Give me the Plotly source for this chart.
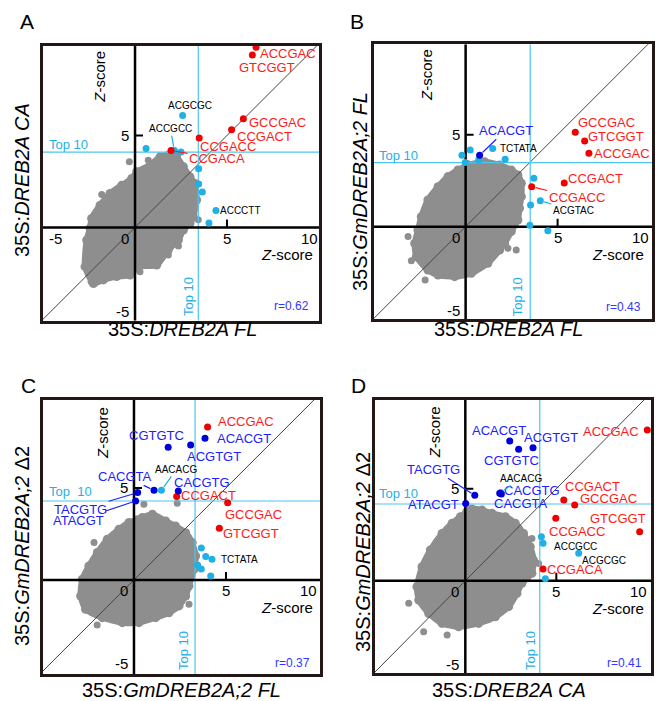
import plotly.graph_objects as go

W, H = 658, 701
FONT = "Arial, 'Liberation Sans', Helvetica, sans-serif"
RED = '#ff1a1a'
RED_PT = '#f00000'
BLUE = '#2020ff'
BLUE_PT = '#0000d8'
CYAN = '#1fb1e6'
CYAN_LINE = '#4cc6ee'
GRAY = '#8e8e8e'
FRAME = '#231815'
R_COLOR = '#3535ff'

# ---------------- data ----------------
PANEL_LETTERS = ['A', 'B', 'C', 'D']
X_TITLES = ["35S:<i>DREB2A FL</i>", "35S:<i>DREB2A FL</i>",
            "35S:<i>GmDREB2A;2 FL</i>", "35S:<i>DREB2A CA</i>"]
Y_TITLES = ["35S:<i>DREB2A CA</i>", "35S:<i>GmDREB2A;2 FL</i>",
            "35S:<i>GmDREB2A;2</i> \u03942", "35S:<i>GmDREB2A;2</i> \u03942"]
R_VALUES = ['r=0.62', 'r=0.43', 'r=0.37', 'r=0.41']
TOP10_LABELS = ['Top 10', 'Top 10', 'Top\u00a0 10', 'Top 10']
TOP10_X = [3.44, 3.51, 3.32, 4.09]
TOP10_Y = [4.10, 3.48, 4.29, 4.17]
X_TICKS = [-5, 0, 5, 10]
Y_TICKS = [-5, 5, 10]
TICK_MARK = 5

# Panel A
A_BLOB_X = [-2.26, -2.72, -2.63, -2.45, -2.36, -1.90, -1.36, -0.72, -0.18, 0.09, 0.82, 1.36, 1.85, 2.26,
            2.63, 2.99, 3.26, 3.35, 3.17, 2.99, 2.63, 2.36, 1.81, 1.18, 0.18, -0.27, -1.00, -1.72]
A_BLOB_Y = [-3.04, -2.14, -0.69, -0.05, 0.49, 1.21, 1.85, 2.30, 2.66, 3.03, 3.39, 3.84, 3.95, 3.85,
            3.30, 2.75, 2.39, 1.49, 0.58, 0.22, -0.14, -0.69, -1.23, -2.05, -2.14, -2.59, -2.68, -2.86]
A_OUT_X = [-1.81, -0.31, 0.72, 0.27, -2.39, 2.36, 1.81, 3.44]
A_OUT_Y = [1.79, 3.57, 3.66, -2.41, -2.95, -1.01, -1.50, 0.42]
A_RED_NAMES = ['ACCGAC', 'GTCGGT', 'GCCGAC', 'CCGACT', 'CCGACC', 'CCGACA']
A_RED_X = [6.58, 6.38, 5.89, 5.25, 3.49, 1.96]
A_RED_Y = [9.80, 9.39, 5.91, 5.31, 4.86, 4.18]
A_BLUE_NAMES = []
A_BLUE_X = []
A_BLUE_Y = []
A_CYAN_NAMES = ['ACGCGC', '', 'ACCGCC', '', '', '', '', 'ACCCTT', '']
A_CYAN_X = [2.59, 0.60, 2.14, 2.50, 3.46, 3.46, 3.66, 4.40, 4.02]
A_CYAN_Y = [6.09, 4.29, 4.18, 4.11, 3.19, 2.36, 1.92, 0.92, 0.24]

# Panel B
B_BLOB_X = [0.13, 1.03, 1.85, 2.48, 2.84, 3.03, 3.03, 2.93, 2.84, 2.48, 2.12, 1.85, 1.21, 0.31, -0.60,
            -1.50, -2.05, -2.68, -2.77, -2.59, -2.41, -2.05, -1.50, -0.96, -0.42]
B_BLOB_Y = [3.35, 3.53, 3.35, 3.08, 2.81, 2.36, 1.63, 1.00, 0.36, -0.27, -0.91, -1.27, -1.99, -2.54, -2.72,
            -2.63, -2.36, -1.63, -0.91, -0.18, 0.54, 1.45, 2.17, 2.72, 3.08]
B_OUT_X = [-3.13, -2.95, 2.75, 2.30, -2.20]
B_OUT_Y = [-0.54, -1.85, -1.27, -1.18, -2.90]
B_RED_NAMES = ['GCCGAC', 'GTCGGT', 'ACCGAC', 'CCGACT', 'CCGACC']
B_RED_X = [5.96, 6.47, 6.70, 5.36, 3.59]
B_RED_Y = [5.13, 4.66, 3.99, 2.37, 2.17]
B_BLUE_NAMES = ['ACACGT']
B_BLUE_X = [0.76]
B_BLUE_Y = [3.88]
B_CYAN_NAMES = ['', '', '', '', 'TCTATA', '', '', '', 'ACGTAC', '', '']
B_CYAN_X = [-0.20, 0.25, -0.02, 0.71, 1.47, 2.15, 3.71, 3.53, 4.06, 3.49, 4.47]
B_CYAN_Y = [3.88, 4.17, 3.48, 3.62, 4.24, 3.66, 2.63, 1.18, 1.41, 0.07, -0.23]

# Panel C
C_BLOB_X = [0.18, 0.45, 1.00, 1.72, 2.26, 2.81, 3.17, 3.35, 3.26, 2.99, 2.81, 2.45, 1.90, 1.18, 0.27,
            -0.63, -1.72, -2.63, -2.90, -2.81, -2.45, -1.99, -1.45, -0.82, -0.27]
C_BLOB_Y = [3.26, 3.39, 3.57, 3.21, 2.93, 2.57, 2.03, 1.30, 0.58, -0.33, -0.87, -1.41, -1.78, -2.05, -2.32,
            -2.32, -2.05, -1.59, -0.87, 0.04, 0.76, 1.49, 2.21, 2.75, 3.12]
C_OUT_X = [-2.17, 0.54, 2.35, 2.99, -2.00]
C_OUT_Y = [2.03, 4.11, 4.17, -1.32, -2.45]
C_RED_NAMES = ['ACCGAC', 'CCGACT', 'GCCGAC', 'GTCGGT']
C_RED_X = [4.00, 2.32, 5.09, 4.64]
C_RED_Y = [8.31, 4.53, 4.20, 2.81]
C_BLUE_NAMES = ['ACACGT', 'CGTGTC', 'ACGTGT', 'CACGTA', 'CACGTG', 'TACGTG', 'ATACGT']
C_BLUE_X = [3.86, 1.86, 3.08, 1.09, 2.41, 0.20, 0.09]
C_BLUE_Y = [7.70, 7.21, 7.34, 4.87, 4.84, 4.75, 4.29]
C_CYAN_NAMES = ['AACACG', '', '', 'TCTATA', '', '', '']
C_CYAN_X = [1.49, 3.66, 3.90, 4.24, 3.46, 3.66, 4.17]
C_CYAN_Y = [4.87, 1.74, 1.27, 1.12, 0.82, 0.60, 0.22]

# Panel D
D_BLOB_X = [0.09, 0.37, 0.92, 1.47, 2.20, 2.75, 3.20, 3.57, 3.75, 3.66, 3.11, 2.84, 2.38, 1.65, 0.73,
            -0.37, -1.28, -2.01, -2.56, -2.66, -2.38, -1.92, -1.28, -0.73, -0.27]
D_BLOB_Y = [3.75, 3.90, 3.84, 3.66, 3.48, 3.12, 2.57, 1.85, 1.12, 0.40, -0.14, -0.69, -1.41, -1.96, -2.32,
            -2.50, -2.32, -1.78, -1.05, -0.33, 0.76, 1.67, 2.57, 3.12, 3.48]
D_OUT_X = [-3.11, -2.29, -1.00, 4.03, 3.66]
D_OUT_Y = [-1.23, -2.77, -2.95, 0.94, 2.30]
D_RED_NAMES = ['ACCGAC', 'CCGACT', 'GCCGAC', 'CCGACC', 'GTCGGT', 'CCGACA']
D_RED_X = [10.00, 5.41, 6.01, 4.97, 9.58, 4.27]
D_RED_Y = [8.19, 4.39, 4.11, 3.39, 2.66, 0.64]
D_BLUE_NAMES = ['ACACGT', 'CGTGTC', 'ACGTGT', 'TACGTG', 'ATACGT', 'CACGTG', 'CACGTA']
D_BLUE_X = [2.44, 2.93, 3.72, 0.52, 0.02, 1.89, 1.98]
D_BLUE_Y = [7.59, 7.14, 7.23, 4.64, 4.20, 4.75, 4.71]
D_CYAN_NAMES = ['AACACG', '', 'ACCGCC', 'ACGCGC', '']
D_CYAN_X = [1.95, 4.18, 4.27, 6.23, 4.40]
D_CYAN_Y = [4.80, 2.39, 2.03, 1.49, 0.11]

# ---------------- layout / style (pixels) ----------------
STYLE = {
    'A': dict(xpx=(42.7, 319.3), ypx=(45.7, 320.7), xr=(-5.02, 10.02), yr=(-5.08, 9.89),
              xtitle=(182, 328.5), ytitle=(22, 180), letter=(27, 22),
              top_h=(4, 8), top_v=(10, 24), zx=(4, 27), zy=(35, 31), r=(8, 15)),
    'B': dict(xpx=(374.0, 652.0), ypx=(44.3, 319.0), xr=(-4.98, 10.13), yr=(-5.02, 9.91),
              xtitle=(508, 328.5), ytitle=(360, 192), letter=(357, 22),
              top_h=(3, 7), top_v=(12, 22), zx=(6, 28), zy=(39, 31), r=(9, 12)),
    'C': dict(xpx=(42.7, 320.0), ypx=(400.0, 674.0), xr=(-4.96, 10.11), yr=(-5.11, 9.78),
              xtitle=(181, 689.5), ytitle=(22, 546), letter=(28, 385),
              top_h=(4, 10), top_v=(12, 23), zx=(5, 28), zy=(32, 33), r=(8, 11)),
    'D': dict(xpx=(374.7, 651.3), ypx=(400.0, 673.3), xr=(-4.98, 10.22), yr=(-5.03, 9.82),
              xtitle=(509, 689.5), ytitle=(363, 552), letter=(358, 385),
              top_h=(2, 10), top_v=(9, 23), zx=(5, 28), zy=(31, 32), r=(7, 10)),
}
# label offsets of text centre from point (px, y down), and whether a leader line is drawn
LABEL_OFFSETS = {
    'A': {'ACCGAC': (32, 6, False), 'GTCGGT': (15, 13, False), 'GCCGAC': (34, 4, False),
          'CCGACT': (33, 7, False), 'CCGACC': (29, 8, False), 'CCGACA': (46, 8, True),
          'ACGCGC': (7, -10, False), 'ACCGCC': (-4, -22, True), 'ACCCTT': (25, 0, False)},
    'B': {'GCCGAC': (31, -10, False), 'GTCGGT': (31, -4, False), 'ACCGAC': (33, 0, False),
          'CCGACT': (31, -5, False), 'CCGACC': (45, 11, True), 'ACACGT': (26, -25, True),
          'TCTATA': (26, 0, False), 'ACGTAC': (33, 10, True)},
    'C': {'ACCGAC': (38, -6, False), 'CCGACT': (32, -1, False), 'GCCGAC': (26, 12, False),
          'GTCGGT': (32, 5, False), 'ACACGT': (39, 0, False), 'CGTGTC': (-12, -12, False),
          'ACGTGT': (23, 12, False), 'CACGTA': (-29, -14, True), 'CACGTG': (24, -8, False),
          'TACGTG': (-57, 17, True), 'ATACGT': (-57, 19, True), 'AACACG': (15, -21, True),
          'TCTATA': (28, 0, False)},
    'D': {'ACCGAC': (-36, 1, False), 'CCGACT': (29, -13, False), 'GCCGAC': (34, -7, False),
          'CCGACC': (21, 13, False), 'GTCGGT': (-22, -13, False), 'CCGACA': (32, 1, False),
          'ACACGT': (-11, -11, False), 'CGTGTC': (-7, 11, False), 'ACGTGT': (18, -10, False),
          'TACGTG': (-41, -26, True), 'ATACGT': (-32, 1, False), 'CACGTG': (32, -3, False),
          'CACGTA': (20, 9, False), 'AACACG': (20, -14, True), 'ACCGCC': (32, 3, False),
          'ACGCGC': (25, 7, False)},
}
X_TICK_SHIFT = {-5: 12, 0: -10, 5: 0, 10: -9}
Y_TICK_SHIFT = {-5: 8, 5: 0, 10: -11}

PANEL_DATA = {
    'A': (A_BLOB_X, A_BLOB_Y, A_OUT_X, A_OUT_Y, A_RED_NAMES, A_RED_X, A_RED_Y,
          A_BLUE_NAMES, A_BLUE_X, A_BLUE_Y, A_CYAN_NAMES, A_CYAN_X, A_CYAN_Y),
    'B': (B_BLOB_X, B_BLOB_Y, B_OUT_X, B_OUT_Y, B_RED_NAMES, B_RED_X, B_RED_Y,
          B_BLUE_NAMES, B_BLUE_X, B_BLUE_Y, B_CYAN_NAMES, B_CYAN_X, B_CYAN_Y),
    'C': (C_BLOB_X, C_BLOB_Y, C_OUT_X, C_OUT_Y, C_RED_NAMES, C_RED_X, C_RED_Y,
          C_BLUE_NAMES, C_BLUE_X, C_BLUE_Y, C_CYAN_NAMES, C_CYAN_X, C_CYAN_Y),
    'D': (D_BLOB_X, D_BLOB_Y, D_OUT_X, D_OUT_Y, D_RED_NAMES, D_RED_X, D_RED_Y,
          D_BLUE_NAMES, D_BLUE_X, D_BLUE_Y, D_CYAN_NAMES, D_CYAN_X, D_CYAN_Y),
}

fig = go.Figure()
annotations = []
layout_axes = {}


def font(size, color='black'):
    return dict(family=FONT, size=size, color=color)


for i, key in enumerate(PANEL_LETTERS):
    st = STYLE[key]
    (bx, by, ox, oy, rn, rx, ry, bn, blx, bly, cn, cx, cy) = PANEL_DATA[key]
    xa = 'x' if i == 0 else f'x{i + 1}'
    ya = 'y' if i == 0 else f'y{i + 1}'
    xdom = [st['xpx'][0] / W, st['xpx'][1] / W]
    ydom = [1 - st['ypx'][1] / H, 1 - st['ypx'][0] / H]
    xr, yr = st['xr'], st['yr']
    ux = (xr[1] - xr[0]) / (st['xpx'][1] - st['xpx'][0])   # data units per px
    uy = (yr[1] - yr[0]) / (st['ypx'][1] - st['ypx'][0])
    axcommon = dict(showgrid=False, zeroline=False, showticklabels=False, ticks='',
                    showline=True, mirror=True, linewidth=3, linecolor=FRAME, fixedrange=True)
    layout_axes['xaxis' if i == 0 else f'xaxis{i + 1}'] = dict(
        axcommon, domain=xdom, range=list(xr), anchor=ya)
    layout_axes['yaxis' if i == 0 else f'yaxis{i + 1}'] = dict(
        axcommon, domain=ydom, range=list(yr), anchor=xa)

    def add(tr):
        tr.update(xaxis=xa, yaxis=ya, showlegend=False, hoverinfo='skip')
        fig.add_trace(tr)

    # gray cloud of all hexamers (outline, dotted edge)
    add(go.Scatter(x=bx + bx[:1], y=by + by[:1], mode='lines+markers', fill='toself',
                   fillcolor=GRAY, marker=dict(color=GRAY, size=9),
                   line=dict(color=GRAY, width=6, shape='spline', smoothing=0.6)))
    add(go.Scatter(x=ox, y=oy, mode='markers', marker=dict(color=GRAY, size=7)))
    # diagonal
    add(go.Scatter(x=[min(xr[0], yr[0]), max(xr[1], yr[1])], y=[min(xr[0], yr[0]), max(xr[1], yr[1])],
                   mode='lines', line=dict(color='#4a4444', width=1)))
    # top-10 thresholds
    add(go.Scatter(x=[TOP10_X[i]] * 2, y=list(yr), mode='lines', line=dict(color=CYAN_LINE, width=1.2)))
    add(go.Scatter(x=list(xr), y=[TOP10_Y[i]] * 2, mode='lines', line=dict(color=CYAN_LINE, width=1.2)))
    # zero axes
    add(go.Scatter(x=[0, 0], y=list(yr), mode='lines', line=dict(color='black', width=2.5)))
    add(go.Scatter(x=list(xr), y=[0, 0], mode='lines', line=dict(color='black', width=2.5)))
    # tick marks at 5
    add(go.Scatter(x=[TICK_MARK, TICK_MARK], y=[0, 8 * uy], mode='lines',
                   line=dict(color='black', width=2)))
    add(go.Scatter(x=[0, 8 * ux], y=[TICK_MARK, TICK_MARK], mode='lines',
                   line=dict(color='black', width=2)))
    # highlighted points
    add(go.Scatter(x=cx, y=cy, mode='markers', marker=dict(color=CYAN, size=7)))
    add(go.Scatter(x=rx, y=ry, mode='markers', marker=dict(color=RED_PT, size=7)))
    add(go.Scatter(x=blx, y=bly, mode='markers', marker=dict(color=BLUE_PT, size=7)))

    # point labels
    offs = LABEL_OFFSETS[key]
    groups = [(rn, rx, ry, RED, 13, RED), (bn, blx, bly, BLUE, 13, BLUE), (cn, cx, cy, 'black', 10, CYAN)]
    for names, xs, ys, col, fs, lcol in groups:
        for n, px, py in zip(names, xs, ys):
            if not n:
                continue
            dx, dy, leader = offs[n]
            if leader:
                annotations.append(dict(xref=xa, yref=ya, x=px, y=py, text=n, showarrow=True,
                                        arrowhead=0, arrowwidth=1.2, arrowcolor=lcol, ax=dx, ay=dy,
                                        standoff=4, font=font(fs, col)))
            else:
                annotations.append(dict(xref=xa, yref=ya, x=px, y=py, text=n, showarrow=False,
                                        xshift=dx, yshift=-dy, font=font(fs, col)))

    # tick labels
    for v in X_TICKS:
        annotations.append(dict(xref=xa, yref=ya, x=v, y=0, text=str(v), showarrow=False,
                                xanchor='center', yanchor='middle', xshift=X_TICK_SHIFT[v], yshift=-11,
                                font=font(15)))
    for v in Y_TICKS:
        annotations.append(dict(xref=xa, yref=ya, x=0, y=v, text=str(v), showarrow=False,
                                xanchor='right', yanchor='middle', xshift=-4, yshift=Y_TICK_SHIFT[v],
                                font=font(15)))
    # Z-score axis names
    annotations.append(dict(xref=xa + ' domain', yref=ya, x=1, y=0, text='<i>Z</i>-score',
                            showarrow=False, xanchor='right', yanchor='middle',
                            xshift=-st['zx'][0], yshift=-st['zx'][1], font=font(15)))
    annotations.append(dict(xref=xa, yref=ya + ' domain', x=0, y=1, text='<i>Z</i>-score',
                            showarrow=False, textangle=-90, xanchor='center', yanchor='middle',
                            xshift=-st['zy'][0], yshift=-st['zy'][1], font=font(15)))
    # Top 10 labels
    annotations.append(dict(xref=xa + ' domain', yref=ya, x=0, y=TOP10_Y[i], text=TOP10_LABELS[i],
                            showarrow=False, xanchor='left', yanchor='middle',
                            xshift=st['top_h'][0], yshift=st['top_h'][1], font=font(13, CYAN)))
    annotations.append(dict(xref=xa, yref=ya + ' domain', x=TOP10_X[i], y=0, text='Top 10',
                            showarrow=False, textangle=-90, xanchor='center', yanchor='middle',
                            xshift=-st['top_v'][0], yshift=st['top_v'][1], font=font(13, CYAN)))
    # correlation
    annotations.append(dict(xref=xa + ' domain', yref=ya + ' domain', x=1, y=0, text=R_VALUES[i],
                            showarrow=False, xanchor='right', yanchor='middle',
                            xshift=-st['r'][0], yshift=st['r'][1], font=font(12, R_COLOR)))
    # titles and panel letter
    tx, ty = st['xtitle']
    annotations.append(dict(xref='paper', yref='paper', x=tx / W, y=1 - ty / H, text=X_TITLES[i],
                            showarrow=False, xanchor='center', yanchor='middle', font=font(20)))
    tx, ty = st['ytitle']
    annotations.append(dict(xref='paper', yref='paper', x=tx / W, y=1 - ty / H, text=Y_TITLES[i],
                            showarrow=False, textangle=-90, xanchor='center', yanchor='middle',
                            font=font(20)))
    lx, ly = st['letter']
    annotations.append(dict(xref='paper', yref='paper', x=lx / W, y=1 - ly / H, text=key,
                            showarrow=False, xanchor='center', yanchor='middle', font=font(21)))

fig.update_layout(width=W, height=H, margin=dict(l=0, r=0, t=0, b=0),
                  paper_bgcolor='white', plot_bgcolor='white',
                  annotations=annotations, **layout_axes)
fig.write_html("out.html", config={'displayModeBar': False},
               post_script="document.body.style.margin='0';document.body.style.overflow='hidden';")
